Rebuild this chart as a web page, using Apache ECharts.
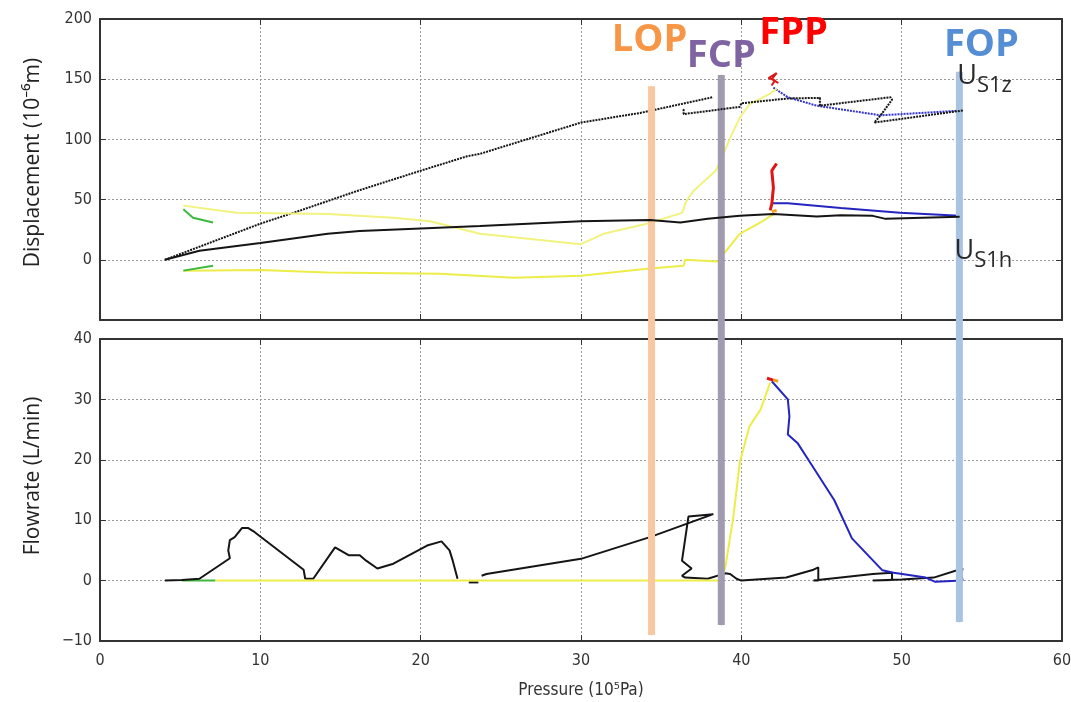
<!DOCTYPE html>
<html>
<head>
<meta charset="utf-8">
<script src="https://cdn.jsdelivr.net/npm/echarts/dist/echarts.min.js"></script>
<style>
  html, body { margin: 0; padding: 0; background: #fff; }
  #chart { width: 1071px; height: 702px; }
</style>
</head>
<body>
<div id="chart"></div>
<script>
  // ---- top panel: displacement (10^-6 m) vs pressure (10^5 Pa) ----
  // u_s1z, black dotted: loading branch, then the loop after FCP
  const zBlackLoad = [[4.05, 0], [10, 30], [12.5, 41], [16, 57], [20, 74], [22.9, 86], [23.7, 88], [30, 114], [33.7, 122], [38.2, 135]]
  const zBlackLoop = [[36.4, 125], [36.4, 121], [39.9, 127], [40, 130], [42.9, 134], [44.9, 134.5], [44.9, 128], [49.3, 135], [49.4, 133], [48.8, 122], [48.3, 114], [53.8, 124]]
  // u_s1z after peak, blue dotted
  const zBlue = [[42.0, 143], [42.9, 135], [44.7, 128], [46.2, 125], [48.7, 120], [53.8, 124]]
  const zRed = [[41.9, 145], [42.1, 149], [41.7, 151], [42.2, 155], [41.9, 150], [42.3, 147]]
  const zYellow = [[5.2, 45], [8.5, 39], [14.2, 38], [18.3, 35], [20.6, 32], [21.2, 30], [23.7, 21.6], [30, 13], [31.4, 21.6], [34.1, 30], [36.3, 39], [36.4, 42], [36.5, 47], [37, 57], [37.9, 68], [38.4, 74], [38.7, 82], [39.3, 101], [39.9, 118], [40.5, 129], [41.8, 138], [42.2, 142]]
  const zGreen = [[5.2, 42], [5.8, 35], [7.05, 31]]
  // u_s1h
  const hBlack = [[4.05, 0], [6.2, 7.5], [10, 14], [14.2, 21.6], [16.2, 24], [20, 26], [23.7, 28], [30, 32], [34.3, 33], [36.2, 31], [37.9, 34], [39.9, 36.5], [42, 38], [44.7, 36], [46.2, 37], [48.2, 36.5], [49, 34], [53.6, 35.7]]
  const hYellow = [[5.2, -9], [10, -8.5], [14.2, -10.5], [21.2, -11.5], [25.8, -15], [30, -13.3], [34.1, -7.5], [36.4, -5], [36.5, 0], [38.5, -1.5], [38.9, 5], [39.9, 21.6], [41.2, 31], [42, 38]]
  const hGreen = [[5.2, -9], [7.05, -5]]
  const hRed = [[41.8, 41], [41.9, 46.5], [42.0, 60], [41.9, 74], [42.2, 80]]
  const hOrange = [[41.9, 40], [42.2, 41]]
  const hBlue = [[41.9, 47], [42.9, 47], [43, 45.5], [46.2, 43], [49.9, 39], [53.6, 36.5]]

  // ---- bottom panel: flowrate (L/min) vs pressure ----
  const qBlackA = [[4.05, 0], [5.1, 0.1], [6.2, 0.3], [8.1, 3.7], [8.0, 5], [8.1, 6.7], [8.4, 7.2], [8.85, 8.7], [9.25, 8.7], [9.55, 8.2], [12.7, 1.8], [12.8, 0.3], [13.3, 0.3], [14.66, 5.5], [15.5, 4.2], [16.2, 4.2], [16.6, 3.3], [17.3, 2], [18.3, 2.8], [20.4, 5.8], [21.3, 6.5], [21.8, 5], [22.0, 3.3], [22.3, 0.3]]
  const qBlackB = [[23.0, -0.3], [23.6, -0.3]]
  const qBlackC = [[23.8, 0.8], [24.1, 1.1], [30, 3.6], [34.3, 7.2], [38.25, 11], [36.7, 10.6], [36.3, 3.3], [36.9, 2], [36.3, 0.8], [36.5, 0.5], [37.9, 0.3], [39, 1.2], [39.3, 1.1], [39.7, 0.3], [40, 0], [42.8, 0.5], [44.5, 1.8], [44.8, 2.2], [44.8, 0], [44.5, 0], [48.2, 1.1], [49.4, 1.3], [49.4, 0.1], [48.2, 0], [50, 0.2], [52, 0.5], [53.8, 2], [53.6, 0]]
  const qBlue = [[41.9, 33], [42.9, 30], [43, 27.2], [42.9, 24.2], [43.5, 22.8], [44.3, 19.5], [45.8, 13.3], [46.9, 7], [48.8, 1.7], [49.5, 1.3], [51.5, 0.5], [52.1, -0.2], [53.8, 0], [53.7, 1.5]]
  const qYellow = [[7.2, 0], [38.7, 0], [39, 2.2], [39.5, 10.5], [39.9, 19.5], [40.5, 25.5], [41.2, 28.3], [41.8, 32.8]]
  const qGreen = [[5.1, 0], [7.2, 0]]
  const qRed = [[41.6, 33.5], [42.0, 33.2]]
  const qOrange = [[42.0, 33.2], [42.3, 33]]

  // ---- event markers (pressure) ----
  const markerNames = ['LOP', 'FCP', 'FOP']
  const markerPressure = [34.4, 38.75, 53.6]

  const tickFont = "'DejaVu Sans Condensed', 'Liberation Sans Narrow', sans-serif"
  const nameFont = "'Open Sans', 'Noto Sans', sans-serif"
  const boxLine = { show: true, onZero: false, lineStyle: { color: '#333', width: 2 } }
  const tick = { show: true, inside: true, length: 6, lineStyle: { color: '#333', width: 1 } }
  const gridLine = { show: true, lineStyle: { color: '#9a9a9a', type: [2, 2], width: 1 } }

  // marker band extents, as fraction of the overlay height
  const bandExtent = [[0.0096, 0.892], [0.0257, 0.91], [0.0305, 0.915]]
  const bandColor = ['#F9C8A0', '#A29AAF', '#A9C4E3']
  const labelColor = ['#F79646', '#8064A2', '#558ED5']
  const labelOffset = [[-2, -27], [0, 1], [22, -7]]

  function line(data, color, xi, yi, extra) {
    return Object.assign({
      type: 'line',
      xAxisIndex: xi,
      yAxisIndex: yi,
      data: data,
      showSymbol: false,
      symbol: 'none',
      silent: true,
      lineStyle: { color: color, width: 2 }
    }, extra || {})
  }

  // series that carry a label need a (tiny) symbol for the label to hang on
  const withLabel = color => ({ showSymbol: true, symbol: 'circle', symbolSize: 1, itemStyle: { color: color } })

  function subLabel(sub) {
    return {
      show: true,
      formatter: '{u|U}{s|' + sub + '}',
      rich: {
        u: { fontFamily: nameFont, fontSize: 27, color: '#2a2a2a', verticalAlign: 'top', lineHeight: 30 },
        s: { fontFamily: nameFont, fontSize: 22, color: '#2a2a2a', verticalAlign: 'top', lineHeight: 30, padding: [12, 0, 0, 0] }
      }
    }
  }

  function labelAt(data, idx, label) {
    return data.map((p, i) => (i === idx ? { value: p, label: label } : p))
  }

  const bigText = (text, color) => ({ show: true, formatter: text, color: color, fontSize: 38, fontWeight: 'bold', fontFamily: nameFont })

  let series = [
    // top
    line(zBlackLoad, '#151515', 0, 0, { lineStyle: { color: '#151515', width: 2, type: [2, 1] } }),
    line(labelAt(zBlackLoop, zBlackLoop.length - 1, Object.assign(subLabel('S1z'), { position: 'top', offset: [22, -12] })), '#151515', 0, 0,
      Object.assign(withLabel('#151515'), { z: 6, lineStyle: { color: '#151515', width: 2, type: [2, 1] } })),
    line(zBlue, '#3535C8', 0, 0, { lineStyle: { color: '#3535C8', width: 2, type: [2, 1] } }),
    line(labelAt(zRed, 3, Object.assign(bigText('FPP', '#FF0000'), { position: 'top', distance: 21, offset: [17, 0] })), '#E01515', 0, 0, withLabel('#E01515')),
    line(zYellow, '#F2F27E', 0, 0),
    line(zGreen, '#3CB93C', 0, 0),
    line(hYellow, '#EDED4A', 0, 0),
    line(hGreen, '#3CB93C', 0, 0),
    line(labelAt(hBlack, hBlack.length - 1, Object.assign(subLabel('S1h'), { position: 'bottom', offset: [24, 15] })), '#151515', 0, 0,
      Object.assign(withLabel('#151515'), { z: 6 })),
    line(hBlue, '#2424C0', 0, 0),
    line(hRed, '#E01515', 0, 0, { lineStyle: { color: '#E01515', width: 3 } }),
    line(hOrange, '#F0A020', 0, 0, { lineStyle: { color: '#F0A020', width: 3 } }),
    // bottom
    line(qGreen, '#3CB93C', 2, 2),
    line(qBlackA, '#151515', 2, 2),
    line(qBlackB, '#151515', 2, 2),
    line(qBlackC, '#151515', 2, 2),
    line(qYellow, '#EDED4A', 2, 2),
    line(qBlue, '#2424C0', 2, 2),
    line(qRed, '#E01515', 2, 2, { lineStyle: { color: '#E01515', width: 3 } }),
    line(qOrange, '#F0A020', 2, 2, { lineStyle: { color: '#F0A020', width: 3 } })
  ]

  // vertical marker bands across both panels
  markerNames.forEach((name, i) => {
    let x = markerPressure[i]
    let lbl = Object.assign(bigText(name, labelColor[i]), { position: 'top', distance: 0, offset: labelOffset[i] })
    series.push(line([[x, bandExtent[i][0]], { value: [x, bandExtent[i][1]], label: lbl }], bandColor[i], 4, 4,
      Object.assign(withLabel(bandColor[i]), { z: 5, lineStyle: { color: bandColor[i], width: 7, cap: 'butt' } })))
  })

  let chart = echarts.init(document.getElementById('chart'))
  chart.setOption({
    animation: false,
    backgroundColor: '#fff',
    grid: [
      { left: 100, right: 9, top: 19, height: 301, outerBoundsMode: 'none' },
      { left: 100, right: 9, top: 339, height: 302, outerBoundsMode: 'none' },
      { left: 100, right: 9, top: 19, height: 622, outerBoundsMode: 'none' }
    ],
    xAxis: [
      { gridIndex: 0, type: 'value', min: 0, max: 60, interval: 10, axisLine: boxLine, axisTick: tick, axisLabel: { show: false }, splitLine: gridLine },
      { gridIndex: 0, type: 'value', position: 'top', min: 0, max: 60, interval: 10, axisLine: boxLine, axisTick: tick, axisLabel: { show: false }, splitLine: { show: false } },
      {
        gridIndex: 1, type: 'value', min: 0, max: 60, interval: 10, axisLine: boxLine, axisTick: tick, splitLine: gridLine,
        axisLabel: { color: '#333', fontSize: 16, fontFamily: tickFont, margin: 12 },
        name: 'Pressure (10\u2075Pa)', nameLocation: 'middle', nameGap: 41,
        nameTextStyle: { color: '#333', fontSize: 17, fontFamily: tickFont }
      },
      { gridIndex: 1, type: 'value', position: 'top', min: 0, max: 60, interval: 10, axisLine: boxLine, axisTick: tick, axisLabel: { show: false }, splitLine: { show: false } },
      { gridIndex: 2, type: 'value', min: 0, max: 60, show: false }
    ],
    yAxis: [
      {
        gridIndex: 0, type: 'value', min: -50, max: 200, interval: 50, axisLine: boxLine, axisTick: tick, splitLine: gridLine,
        axisLabel: { color: '#333', fontSize: 16, fontFamily: tickFont, margin: 8, formatter: v => (v < 0 ? '' : String(v)) },
        name: 'Displacement (10\u207B\u2076m)', nameLocation: 'middle', nameGap: 56, nameRotate: 90,
        nameTextStyle: { color: '#222', fontSize: 21, fontFamily: nameFont, padding: [0, 0, 0, 14] }
      },
      { gridIndex: 0, type: 'value', position: 'right', min: -50, max: 200, interval: 50, axisLine: boxLine, axisTick: tick, axisLabel: { show: false }, splitLine: { show: false } },
      {
        gridIndex: 1, type: 'value', min: -10, max: 40, interval: 10, axisLine: boxLine, axisTick: tick, splitLine: gridLine,
        axisLabel: { color: '#333', fontSize: 16, fontFamily: tickFont, margin: 8, formatter: v => String(v).replace('-', '\u2212') },
        name: 'Flowrate (L/min)', nameLocation: 'middle', nameGap: 56, nameRotate: 90,
        nameTextStyle: { color: '#222', fontSize: 21, fontFamily: nameFont, padding: [0, 0, 0, 28] }
      },
      { gridIndex: 1, type: 'value', position: 'right', min: -10, max: 40, interval: 10, axisLine: boxLine, axisTick: tick, axisLabel: { show: false }, splitLine: { show: false } },
      { gridIndex: 2, type: 'value', min: 0, max: 1, show: false }
    ],
    series: series
  })
</script>
</body>
</html>
